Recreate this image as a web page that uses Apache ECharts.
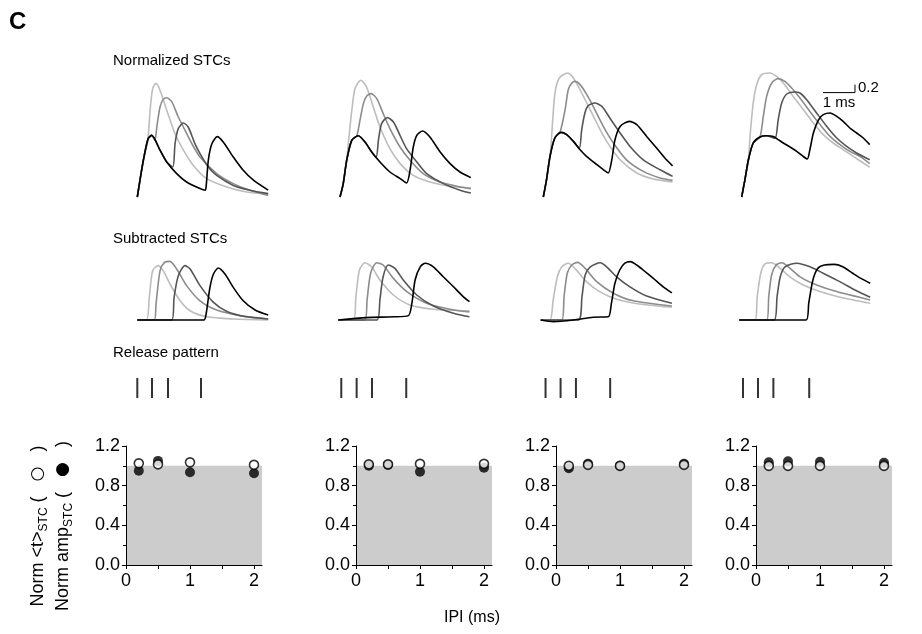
<!DOCTYPE html>
<html><head><meta charset="utf-8">
<script src="https://cdn.jsdelivr.net/npm/echarts@6/dist/echarts.min.js"></script>
<style>html,body{margin:0;padding:0;background:#fff}#c{width:922px;height:634px}</style>
</head><body><div id="c"></div>
<script>
// ---------- DATA (time in ms from trace start, amplitude in normalized units) ----------
// Normalized STCs, columns 1..4 (L = light grey, M = mid grey, D = dark grey, K = black)
const n1L = [[0,0],[0.19,0.92],[0.33,1.42],[0.40,2.17],[0.48,2.71],[0.58,2.84],[0.71,2.67],[0.92,2.17],[1.18,1.58],[1.44,1.17],[1.75,0.79],[2.17,0.46],[2.8,0.25],[3.42,0.125],[4.09,0.07]];
const n1M = [[0,0],[0.19,0.92],[0.34,1.46],[0.45,1.54],[0.55,1.42],[0.61,1.75],[0.71,2.25],[0.81,2.44],[0.92,2.48],[1.08,2.38],[1.28,2.0],[1.44,1.75],[1.7,1.34],[1.96,1.0],[2.48,0.585],[3.0,0.335],[3.52,0.17],[4.09,0.04]];
const n1D = [[0,0],[0.19,0.92],[0.34,1.46],[0.45,1.54],[0.71,1.17],[0.92,0.875],[1.11,0.75],[1.18,1.335],[1.28,1.71],[1.44,1.85],[1.59,1.75],[1.8,1.335],[1.96,1.085],[2.22,0.75],[2.48,0.54],[3.0,0.29],[3.52,0.17],[4.09,0.085]];
const n1K = [[0,0],[0.19,0.92],[0.34,1.46],[0.45,1.54],[0.71,1.17],[0.92,0.875],[1.23,0.585],[1.54,0.375],[1.96,0.21],[2.12,0.17],[2.15,0.25],[2.22,0.92],[2.33,1.33],[2.5,1.51],[2.69,1.37],[3.0,1.0],[3.31,0.67],[3.63,0.42],[4.09,0.17]];

const n2L = [[0,0],[0.1,0.33],[0.21,0.92],[0.26,1.335],[0.37,2.17],[0.47,2.71],[0.65,2.92],[0.83,2.75],[1.04,2.25],[1.25,1.75],[1.56,1.21],[1.88,0.835],[2.29,0.54],[2.81,0.375],[3.44,0.27],[4.09,0.225]];
const n2M = [[0,0],[0.1,0.33],[0.21,0.92],[0.37,1.42],[0.52,1.52],[0.625,1.92],[0.73,2.335],[0.83,2.52],[0.97,2.585],[1.15,2.46],[1.35,2.085],[1.56,1.71],[1.875,1.25],[2.19,0.92],[2.6,0.585],[3.125,0.375],[3.65,0.27],[4.09,0.21]];
const n2D = [[0,0],[0.1,0.33],[0.21,0.92],[0.37,1.42],[0.57,1.53],[0.78,1.375],[1.125,1.0],[1.2,1.42],[1.3,1.835],[1.48,1.985],[1.67,1.875],[1.875,1.54],[2.08,1.21],[2.4,0.875],[2.71,0.585],[3.23,0.335],[3.75,0.17],[4.09,0.1]];
const n2K = [[0,0],[0.1,0.33],[0.21,0.92],[0.37,1.42],[0.57,1.53],[0.78,1.375],[0.99,1.125],[1.25,0.875],[1.56,0.625],[1.88,0.46],[2.08,0.35],[2.19,0.67],[2.29,1.25],[2.4,1.54],[2.58,1.65],[2.81,1.5],[3.13,1.125],[3.44,0.835],[3.75,0.625],[4.09,0.485]];

const n3L = [[0,0],[0.1,0.43],[0.23,1.18],[0.28,1.765],[0.365,2.6],[0.5,2.975],[0.76,3.1],[0.94,2.975],[1.15,2.68],[1.36,2.35],[1.67,1.85],[1.98,1.39],[2.4,0.93],[2.92,0.6],[3.44,0.45],[4.04,0.375]];
const n3M = [[0,0],[0.1,0.43],[0.21,1.015],[0.36,1.475],[0.52,1.615],[0.68,2.18],[0.78,2.68],[0.89,2.85],[0.99,2.89],[1.15,2.81],[1.36,2.56],[1.56,2.265],[1.875,1.765],[2.19,1.35],[2.6,0.93],[3.125,0.64],[3.65,0.475],[4.04,0.415]];
const n3D = [[0,0],[0.1,0.43],[0.21,1.015],[0.36,1.475],[0.55,1.615],[0.73,1.56],[0.94,1.39],[1.125,1.225],[1.2,1.68],[1.3,2.1],[1.4,2.28],[1.61,2.35],[1.83,2.265],[2.08,1.975],[2.4,1.6],[2.71,1.265],[3.125,0.93],[3.65,0.68],[4.04,0.515]];
const n3K = [[0,0],[0.1,0.43],[0.21,1.015],[0.36,1.475],[0.55,1.615],[0.73,1.56],[0.94,1.39],[1.15,1.18],[1.35,1.015],[1.61,0.85],[1.88,0.68],[2.03,0.6],[2.14,0.93],[2.24,1.43],[2.4,1.765],[2.69,1.89],[2.92,1.81],[3.23,1.515],[3.54,1.225],[3.85,0.93],[4.04,0.78]];

const n4L = [[0,0],[0.1,0.43],[0.21,0.93],[0.26,1.515],[0.36,2.35],[0.47,2.81],[0.625,3.06],[0.885,3.1],[1.09,3.015],[1.3,2.85],[1.61,2.515],[1.93,2.18],[2.24,1.85],[2.55,1.56],[2.86,1.35],[3.18,1.18],[3.49,1.015],[3.8,0.85],[4.0,0.75]];
const n4M = [[0,0],[0.1,0.43],[0.21,0.93],[0.36,1.35],[0.57,1.5],[0.675,2.015],[0.78,2.515],[0.94,2.85],[1.14,2.96],[1.35,2.89],[1.56,2.725],[1.82,2.475],[2.13,2.14],[2.45,1.81],[2.76,1.515],[3.07,1.31],[3.38,1.14],[3.69,1.015],[4.0,0.835]];
const n4D = [[0,0],[0.1,0.43],[0.21,0.93],[0.36,1.35],[0.57,1.5],[0.78,1.53],[1.04,1.465],[1.14,1.93],[1.25,2.35],[1.41,2.575],[1.67,2.625],[1.82,2.6],[2.03,2.43],[2.34,2.1],[2.66,1.765],[2.97,1.475],[3.28,1.265],[3.59,1.1],[4.0,0.93]];
const n4K = [[0,0],[0.1,0.43],[0.21,0.93],[0.36,1.35],[0.57,1.5],[0.78,1.53],[0.99,1.515],[1.15,1.43],[1.3,1.35],[1.51,1.25],[1.72,1.14],[1.92,1.015],[2.05,0.95],[2.13,1.18],[2.24,1.6],[2.4,1.93],[2.55,2.06],[2.76,2.1],[2.97,2.015],[3.17,1.89],[3.38,1.725],[3.59,1.6],[3.8,1.475],[4.0,1.31]];

// Subtracted STCs
const s1L = [[0,0],[0.29,0],[0.375,0.565],[0.48,1.23],[0.65,1.36],[0.81,1.23],[1.02,0.9],[1.34,0.48],[1.65,0.23],[2.17,0.08],[3.0,0.025],[4.09,0]];
const s1M = [[0,0],[0.53,0],[0.585,0.4],[0.71,1.23],[0.85,1.44],[1.02,1.465],[1.23,1.275],[1.54,0.86],[1.96,0.48],[2.48,0.25],[3.21,0.11],[4.09,0.025]];
const s1D = [[0,0],[1.08,0],[1.15,0.565],[1.28,1.1],[1.49,1.36],[1.65,1.275],[1.96,0.86],[2.38,0.44],[2.8,0.215],[3.42,0.08],[4.09,0.025]];
const s1K = [[0,0],[2.08,0],[2.15,0.15],[2.27,0.815],[2.38,1.15],[2.53,1.3],[2.74,1.15],[3.0,0.815],[3.31,0.48],[3.68,0.25],[4.09,0.125]];

const s2L = [[0,0],[0.47,0],[0.55,0.58],[0.66,1.25],[0.83,1.43],[1.04,1.33],[1.3,1.0],[1.72,0.625],[2.24,0.375],[2.97,0.27],[4.1,0.23]];
const s2M = [[0,0],[0.83,0],[0.9,0.5],[1.01,1.17],[1.2,1.43],[1.4,1.375],[1.72,1.04],[2.14,0.71],[2.76,0.42],[3.49,0.27],[4.1,0.2]];
const s2D = [[0,0],[1.21,0],[1.3,0.5],[1.4,1.08],[1.56,1.375],[1.77,1.29],[2.03,1.0],[2.45,0.625],[2.97,0.35],[3.6,0.17],[4.1,0.08]];
const s2K = [[0,0],[0.88,0.06],[1.72,0.08],[2.19,0.11],[2.3,0.42],[2.4,1.0],[2.56,1.33],[2.72,1.42],[2.97,1.33],[3.28,1.08],[3.6,0.83],[3.91,0.58],[4.1,0.46]];

const s3L = [[0,0],[0.29,0],[0.39,0.5],[0.52,1.08],[0.66,1.33],[0.86,1.42],[1.07,1.29],[1.43,0.96],[1.84,0.71],[2.37,0.52],[3.09,0.4],[4.1,0.32]];
const s3M = [[0,0],[0.66,0],[0.73,0.58],[0.83,1.17],[0.97,1.375],[1.15,1.44],[1.39,1.29],[1.75,0.96],[2.27,0.67],[2.89,0.48],[4.1,0.35]];
const s3D = [[0,0],[1.18,0],[1.29,0.58],[1.39,1.125],[1.55,1.33],[1.86,1.43],[2.06,1.33],[2.37,1.08],[2.79,0.83],[3.31,0.6],[4.1,0.42]];
const s3K = [[0,0],[0.4,-0.04],[1.02,0],[1.64,0.07],[2.11,0.08],[2.21,0.42],[2.32,0.92],[2.47,1.25],[2.63,1.42],[2.81,1.46],[3.0,1.375],[3.2,1.25],[3.52,1.04],[3.83,0.83],[4.1,0.68]];

const s4L = [[0,0],[0.49,0],[0.56,0.58],[0.67,1.17],[0.8,1.4],[1.01,1.43],[1.22,1.33],[1.58,1.08],[2.0,0.875],[2.52,0.71],[3.15,0.57],[4.09,0.42]];
const s4M = [[0,0],[0.86,0],[0.92,0.58],[1.01,1.125],[1.15,1.375],[1.33,1.43],[1.53,1.33],[1.9,1.08],[2.42,0.875],[3.04,0.71],[4.09,0.5]];
const s4D = [[0,0],[1.09,0],[1.18,0.58],[1.28,1.08],[1.43,1.33],[1.8,1.42],[2.21,1.33],[2.62,1.17],[3.14,0.96],[3.66,0.73],[4.09,0.57]];
const s4K = [[0,0],[2.09,0],[2.17,0.42],[2.3,1.0],[2.45,1.29],[2.66,1.375],[2.97,1.39],[3.23,1.33],[3.54,1.17],[3.8,1.04],[4.09,0.92]];

// Release pattern (ms)
const rel1 = [0, 0.46, 0.96, 1.99];
const rel2 = [0.04, 0.52, 1.0, 2.07];
const rel3 = [0.07, 0.54, 1.02, 2.09];
const rel4 = [0.04, 0.51, 0.99, 2.11];

// Summary panels
const ipi = [0.2, 0.5, 1, 2];
const amp1 = [0.95, 1.05, 0.935, 0.925];   const tm1 = [1.025, 1.015, 1.035, 1.01];
const amp2 = [1.0, 1.01, 0.94, 0.98];      const tm2 = [1.015, 1.015, 1.02, 1.02];
const amp3 = [0.975, 1.02, 1.0, 1.02];     const tm3 = [1.0, 1.01, 1.0, 1.01];
const amp4 = [1.035, 1.045, 1.04, 1.03];   const tm4 = [1.0, 1.0, 1.0, 1.0];
const refLevel = 1.0;
const xTicks = [0, 1, 2];
const yTickLabels = [0, 0.4, 0.8, 1.2];
const scaleMs = 1, scaleAmp = 0.2;

// ---------- LAYOUT ----------
const FONT = 'Liberation Sans, Arial, Helvetica, sans-serif';
const col1 = [137.3, 340, 543.3, 741.7];
const col2 = [137.3, 338.3, 540.7, 739.3];
const colB = [126, 356, 556, 756];
const PXMS = 32;
const TW = 4.2;
const colors = ['#bdbdbd', '#8c8c8c', '#555555', '#000000'];

const normSets = [[n1L,n1M,n1D,n1K],[n2L,n2M,n2D,n2K],[n3L,n3M,n3D,n3K],[n4L,n4M,n4D,n4K]];
const subSets = [[s1L,s1M,s1D,s1K],[s2L,s2M,s2D,s2K],[s3L,s3M,s3D,s3K],[s4L,s4M,s4D,s4K]];
const rels = [rel1, rel2, rel3, rel4];
const amps = [amp1, amp2, amp3, amp4];
const tms = [tm1, tm2, tm3, tm4];

const grid = [], xAxis = [], yAxis = [], series = [];
function hiddenAxes(gi, xmin, xmax, ymin, ymax) {
  xAxis.push({type:'value', gridIndex:gi, min:xmin, max:xmax, show:false});
  yAxis.push({type:'value', gridIndex:gi, min:ymin, max:ymax, show:false});
}
for (let i = 0; i < 4; i++) {
  grid.push({left: col1[i], top: 69, width: TW*PXMS, height: 128});
  hiddenAxes(i, 0, TW, 0, 3.2);
}
for (let i = 0; i < 4; i++) {
  grid.push({left: col2[i], top: 256, width: TW*PXMS, height: 68});
  hiddenAxes(4+i, 0, TW, -0.1, 1.6);
}
for (let i = 0; i < 4; i++) {
  grid.push({left: col1[i], top: 378, width: TW*PXMS, height: 20});
  hiddenAxes(8+i, 0, TW, -1, 1);
}
for (let i = 0; i < 4; i++) {
  const gi = 12 + i;
  grid.push({left: colB[i], top: 446, width: 136, height: 119});
  xAxis.push({type:'value', gridIndex:gi, min:0, max:2.125, interval:1,
    axisLine:{show:true, onZero:false, lineStyle:{color:'#000', width:1}},
    axisTick:{show:true, length:4, customValues:[0,0.5,1,1.5,2], lineStyle:{color:'#000', width:1}},
    minorTick:{show:false}, splitLine:{show:false},
    axisLabel:{color:'#000', fontSize:18, fontFamily:FONT, margin:7, customValues:xTicks, formatter: v => String(v)}});
  yAxis.push({type:'value', gridIndex:gi, min:0, max:1.2, interval:0.4,
    axisLine:{show:true, onZero:false, lineStyle:{color:'#000', width:1}},
    axisTick:{show:true, length:4, lineStyle:{color:'#000', width:1}},
    minorTick:{show:true, splitNumber:2, length:3, lineStyle:{color:'#000', width:1}},
    splitLine:{show:false}, minorSplitLine:{show:false},
    axisLabel:{color:'#000', fontSize:18, fontFamily:FONT, margin:6, customValues:yTickLabels, formatter: v => v.toFixed(1)}});
}

function trace(gi, data, color) {
  return {type:'line', xAxisIndex:gi, yAxisIndex:gi, data, showSymbol:false, smooth:0.25,
    lineStyle:{color, width:1.6}, silent:true, clip:false, z:2};
}
for (let i = 0; i < 4; i++) {
  normSets[i].forEach((d, k) => series.push(trace(i, d, colors[k])));
  subSets[i].forEach((d, k) => series.push(trace(4+i, d, colors[k])));
  series.push({type:'scatter', xAxisIndex:8+i, yAxisIndex:8+i, data: rels[i].map(t => [t, 0]),
    symbol:'rect', symbolSize:[2, 20], itemStyle:{color:'#000'}, silent:true});
  const gi = 12 + i;
  series.push({type:'line', xAxisIndex:gi, yAxisIndex:gi, data:[[0, refLevel],[2.125, refLevel]],
    showSymbol:false, lineStyle:{width:0}, areaStyle:{color:'#cccccc', opacity:1}, silent:true, z:-1});
  series.push({type:'scatter', xAxisIndex:gi, yAxisIndex:gi, data: ipi.map((x, k) => [x, amps[i][k]]),
    symbol:'circle', symbolSize:10, itemStyle:{color:'#000'}, silent:true, z:3});
  series.push({type:'scatter', xAxisIndex:gi, yAxisIndex:gi, data: ipi.map((x, k) => [x, tms[i][k]]),
    symbol:'circle', symbolSize:9, itemStyle:{color:'#fff', borderColor:'#000', borderWidth:1.6}, silent:true, z:4});
}
// scale bar, drawn in the coordinate system of the 4th normalized panel
const sbX = 2.54, sbY = 2.61;
series.push({type:'line', xAxisIndex:3, yAxisIndex:3, clip:false, showSymbol:false, silent:true,
  data:[[sbX, sbY],[sbX + scaleMs, sbY],[sbX + scaleMs, sbY + scaleAmp]],
  lineStyle:{color:'#000', width:1}});

function txt(x, y, text, opts) {
  return Object.assign({type:'text', x, y, silent:true,
    style: Object.assign({text, fill:'#000', fontSize:15, fontFamily:FONT, align:'left', verticalAlign:'middle'}, (opts||{}).style || {})},
    (opts||{}).el || {});
}
const rich = {
  a: {fontSize:18, fontFamily:FONT, fill:'#000'},
  s: {fontSize:12, fontFamily:FONT, fill:'#000', padding:[11,0,0,0]},
  c: {fontSize:17, fontFamily:'DejaVu Sans', fill:'#000'}
};
const graphic = [
  txt(9, 22, 'C', {style:{fontSize:24, fontWeight:'bold'}}),
  txt(113, 61, 'Normalized STCs'),
  txt(113, 239, 'Subtracted STCs'),
  txt(113, 353, 'Release pattern'),
  txt(858, 88, '0.2'),
  txt(839, 103, '1 ms', {style:{align:'center'}}),
  txt(472, 618, 'IPI (ms)', {style:{align:'center', fontSize:16}}),
  {type:'text', x:38, y:526, rotation:Math.PI/2, silent:true,
    style:{text:'{a|Norm <t>}{s|STC}{a| (   }{c|○}{a|   )}', rich, align:'center', verticalAlign:'middle', fontSize:18, fontFamily:FONT, fill:'#000'}},
  {type:'text', x:63, y:526, rotation:Math.PI/2, silent:true,
    style:{text:'{a|Norm amp}{s|STC}{a| (   }{c|●}{a|   )}', rich, align:'center', verticalAlign:'middle', fontSize:18, fontFamily:FONT, fill:'#000'}}
];

const chart = echarts.init(document.getElementById('c'), null, {renderer:'canvas'});
chart.setOption({animation:false, backgroundColor:'#fff', grid, xAxis, yAxis, series, graphic});
</script></body></html>
